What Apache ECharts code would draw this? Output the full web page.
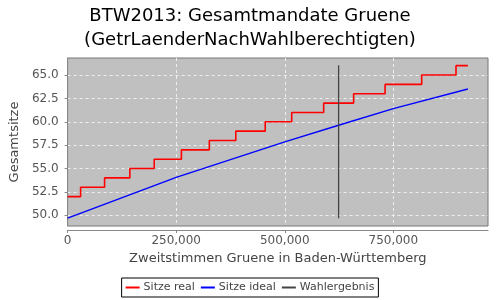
<!DOCTYPE html>
<html>
<head>
<meta charset="utf-8">
<script src="https://cdn.jsdelivr.net/npm/echarts@6/dist/echarts.min.js"></script>
<style>html,body{margin:0;padding:0;background:#fff}#c{width:500px;height:300px}</style>
</head>
<body>
<div id="c"></div>
<script>
// Data
const realX = [0, 29900, 85100, 143300, 199400, 262000, 326300, 387200, 455000, 516000, 589600, 658600, 731000, 815300, 894300, 921600];
const realSeats = [52, 53, 54, 55, 56, 57, 58, 59, 60, 61, 62, 63, 64, 65, 66, 66];
const idealX = [0, 250000, 500000, 624000, 750000, 921600];
const idealSeats = [49.7, 54.05, 57.85, 59.63, 61.41, 63.51];
const resultX = 624000;
const resultRange = [49.7, 66.05];
const xTicks = [0, 250000, 500000, 750000];
const yTicks = [50, 52.5, 55, 57.5, 60, 62.5, 65];
const seriesNames = ['Sitze real', 'Sitze ideal', 'Wahlergebnis'];

const FONT = 'DejaVu Sans';
const chart = echarts.init(document.getElementById('c'), null, {renderer: 'canvas'});
const zip = (xs, ys) => xs.map((x, i) => [x, ys[i]]);

chart.setOption({
  animation: false,
  textStyle: {fontFamily: FONT},
  title: {
    text: 'BTW2013: Gesamtmandate Gruene\n(GetrLaenderNachWahlberechtigten)',
    left: 'center', top: -1,
    textStyle: {fontFamily: FONT, fontSize: 18, fontWeight: 'normal', color: '#000', lineHeight: 24}
  },
  legend: {
    data: seriesNames,
    bottom: 3, left: 'center',
    borderColor: '#000', borderWidth: 1, borderRadius: 0,
    padding: [4, 4, 4, 4],
    itemGap: 6, itemWidth: 14, itemHeight: 2,
    icon: 'rect',
    textStyle: {fontFamily: FONT, fontSize: 11, color: '#444', padding: [0, 0, 0, -1]}
  },
  grid: {
    left: 67, right: 12, top: 58, bottom: 74,
    show: true, backgroundColor: '#c0c0c0', borderColor: '#777', borderWidth: 1
  },
  xAxis: {
    type: 'value', min: 0, max: 968000,
    offset: 4,
    name: 'Zweitstimmen Gruene in Baden-Württemberg',
    nameLocation: 'middle', nameGap: 14,
    nameTextStyle: {fontFamily: FONT, fontSize: 13, color: '#444'},
    axisLine: {show: true, lineStyle: {color: '#888', width: 1}},
    axisTick: {show: true, length: 3, lineStyle: {color: '#888'}, customValues: xTicks},
    axisLabel: {customValues: xTicks, margin: 5, fontFamily: FONT, fontSize: 12, color: '#555',
      formatter: v => Number(v).toLocaleString('en-US')},
    splitLine: {show: true, customValues: xTicks, lineStyle: {color: '#eeeeee', type: [3, 3], width: 1}}
  },
  yAxis: {
    type: 'value', min: 48.86, max: 66.82,
    offset: 4,
    name: 'Gesamtsitze',
    nameLocation: 'middle', nameGap: 31,
    nameTextStyle: {fontFamily: FONT, fontSize: 13, color: '#444'},
    axisLine: {show: true, lineStyle: {color: '#888', width: 1}},
    axisTick: {show: true, length: 3, lineStyle: {color: '#888'}, customValues: yTicks},
    axisLabel: {customValues: yTicks, margin: 5, fontFamily: FONT, fontSize: 12, color: '#555',
      formatter: v => Number(v).toFixed(1)},
    splitLine: {show: true, customValues: yTicks, lineStyle: {color: '#eeeeee', type: [3, 3], width: 1}}
  },
  series: [
    {
      name: seriesNames[0], type: 'line', step: 'end', symbol: 'none',
      data: zip(realX, realSeats),
      itemStyle: {color: '#ff0000'}, lineStyle: {color: '#ff0000', width: 1.6}
    },
    {
      name: seriesNames[1], type: 'line', symbol: 'none', smooth: false,
      data: zip(idealX, idealSeats),
      itemStyle: {color: '#0000ff'}, lineStyle: {color: '#0000ff', width: 1.4}
    },
    {
      name: seriesNames[2], type: 'line', symbol: 'none',
      data: [[resultX, resultRange[0]], [resultX, resultRange[1]]],
      itemStyle: {color: '#444'}, lineStyle: {color: '#444', width: 1.3}
    }
  ]
});
</script>
</body>
</html>
